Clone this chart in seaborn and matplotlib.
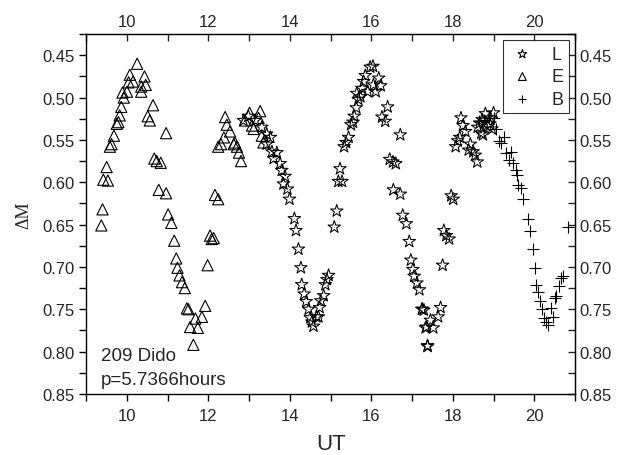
import pandas as pd
import seaborn as sns
import matplotlib.pyplot as plt
from matplotlib.ticker import MultipleLocator

sns.set_style("ticks")
plt.rcParams['font.family'] = ['Liberation Sans', 'DejaVu Sans']

# L filter (stars)
l_ut = [12.86, 12.98, 13.15, 13.31, 13.43, 13.52, 13.43, 13.56, 13.68, 13.60,
        13.76, 13.80, 13.88, 13.84, 13.94, 13.99, 14.11, 14.15, 14.21, 14.27,
        14.29, 14.35, 14.40, 14.46, 14.50, 14.54, 14.58, 14.65, 14.70, 14.73,
        14.76, 14.83, 14.87, 14.91, 14.95, 15.09, 15.15, 15.19, 15.28, 15.23,
        15.33, 15.38, 15.44, 15.50, 15.55, 15.58, 15.63, 15.68, 15.73, 15.64,
        15.77, 15.81, 15.85, 15.91, 15.97, 16.04, 16.05, 16.11, 16.18, 16.23,
        16.40, 16.26, 16.34, 16.71, 16.45, 16.53, 16.60, 16.54, 16.71, 16.77,
        16.86, 16.93, 16.97, 17.02, 17.05, 17.12, 17.18, 17.24, 17.35, 17.38,
        17.25, 17.29, 17.33, 17.45, 17.52, 17.64, 17.70, 17.38, 17.75, 17.78,
        17.84, 17.91, 17.96, 18.01, 18.07, 18.12, 18.17, 18.20, 18.25, 18.31,
        18.39, 18.43, 18.50, 18.55, 18.60, 18.61, 18.66, 18.70, 18.74, 18.80,
        18.86, 18.91, 18.96, 19.00, 18.92, 18.72]
l_dm = [0.527, 0.522, 0.527, 0.535, 0.543, 0.547, 0.555, 0.564, 0.565, 0.572,
        0.578, 0.586, 0.593, 0.602, 0.608, 0.620, 0.643, 0.657, 0.679, 0.701,
        0.721, 0.732, 0.741, 0.750, 0.760, 0.765, 0.770, 0.759, 0.759, 0.748,
        0.740, 0.734, 0.721, 0.715, 0.710, 0.653, 0.634, 0.599, 0.599, 0.584,
        0.558, 0.553, 0.547, 0.532, 0.529, 0.522, 0.512, 0.502, 0.499, 0.495,
        0.489, 0.481, 0.474, 0.493, 0.464, 0.463, 0.485, 0.493, 0.477, 0.486,
        0.511, 0.523, 0.528, 0.544, 0.573, 0.576, 0.578, 0.609, 0.614, 0.639,
        0.649, 0.670, 0.692, 0.703, 0.711, 0.719, 0.727, 0.750, 0.771, 0.794,
        0.750, 0.751, 0.772, 0.763, 0.772, 0.759, 0.748, 0.793, 0.698, 0.657,
        0.663, 0.667, 0.616, 0.620, 0.558, 0.551, 0.547, 0.524, 0.533, 0.540,
        0.562, 0.555, 0.564, 0.568, 0.576, 0.535, 0.530, 0.542, 0.544, 0.519,
        0.534, 0.531, 0.537, 0.518, 0.524, 0.526]

# E filter (triangles)
e_ut = [9.37, 9.40, 9.42, 9.53, 9.50, 9.58, 9.62, 9.68, 9.75, 9.79,
        9.82, 9.86, 9.92, 9.89, 10.00, 10.04, 10.07, 10.15, 10.25, 10.35,
        10.35, 10.43, 10.46, 10.64, 10.51, 10.56, 10.96, 10.67, 10.73, 10.83,
        10.78, 10.96, 11.01, 11.09, 11.16, 11.21, 11.24, 11.29, 11.35, 11.42,
        11.47, 11.51, 11.55, 11.68, 11.74, 11.84, 11.92, 11.63, 11.98, 12.04,
        12.08, 12.13, 12.16, 12.24, 12.24, 12.31, 12.38, 12.41, 12.45, 12.53,
        12.62, 12.65, 12.70, 12.75, 12.80, 12.90, 13.01, 13.27, 13.07, 13.11,
        13.31, 13.35, 13.23]
e_dm = [0.651, 0.632, 0.597, 0.598, 0.582, 0.558, 0.555, 0.545, 0.531, 0.529,
        0.521, 0.511, 0.500, 0.494, 0.493, 0.482, 0.473, 0.481, 0.460, 0.493,
        0.487, 0.475, 0.485, 0.509, 0.522, 0.527, 0.542, 0.572, 0.575, 0.577,
        0.609, 0.613, 0.638, 0.648, 0.669, 0.690, 0.701, 0.710, 0.718, 0.725,
        0.749, 0.750, 0.771, 0.761, 0.772, 0.759, 0.746, 0.792, 0.698, 0.663,
        0.667, 0.666, 0.615, 0.620, 0.558, 0.555, 0.547, 0.523, 0.532, 0.540,
        0.555, 0.553, 0.558, 0.565, 0.575, 0.527, 0.518, 0.516, 0.533, 0.537,
        0.545, 0.553, 0.524]

# B filter (plus)
b_ut = [18.64, 18.76, 18.88, 19.00, 19.07, 19.13, 19.18, 19.26, 19.31, 19.37,
        19.43, 19.48, 19.54, 19.58, 19.59, 19.68, 19.72, 19.84, 19.89, 19.97,
        20.01, 20.05, 20.08, 20.13, 20.19, 20.25, 20.30, 20.33, 20.40, 20.46,
        20.50, 20.54, 20.60, 20.66, 20.70, 20.82]
b_dm = [0.528, 0.526, 0.524, 0.524, 0.537, 0.551, 0.554, 0.546, 0.566, 0.574,
        0.564, 0.577, 0.586, 0.592, 0.603, 0.607, 0.620, 0.643, 0.657, 0.679,
        0.701, 0.721, 0.730, 0.740, 0.750, 0.760, 0.765, 0.769, 0.749, 0.759,
        0.737, 0.734, 0.723, 0.713, 0.711, 0.653]

fig = plt.figure(figsize=(6.25, 4.56), dpi=100)
ax = fig.add_axes([0.138, 0.134, 0.782, 0.789])

sns.scatterplot(x=l_ut, y=l_dm, marker='*', s=90, color='black', facecolor='none',
                edgecolor='black', linewidth=0.75, label='L', ax=ax)
sns.scatterplot(x=e_ut, y=e_dm, marker='^', s=65, color='black', facecolor='none',
                edgecolor='black', linewidth=0.8, label='E', ax=ax)
sns.scatterplot(x=b_ut, y=b_dm, marker='+', s=70, color='black',
                linewidth=0.8, label='B', ax=ax)

ax.set_xlim(9, 21)
ax.set_ylim(0.85, 0.425)
ax.xaxis.set_major_locator(MultipleLocator(2))
ax.xaxis.set_minor_locator(MultipleLocator(1))
ax.yaxis.set_major_locator(MultipleLocator(0.05))
ax.yaxis.set_minor_locator(MultipleLocator(0.025))
ax.yaxis.set_major_formatter(plt.FormatStrFormatter('%.2f'))
ax.tick_params(which='both', direction='out', labelsize=12, color='black',
               width=1, length=5)
ax.tick_params(axis='x', pad=5)
for sp in ax.spines.values():
    sp.set_visible(True)
    sp.set_color('black')
    sp.set_linewidth(1)

top = ax.secondary_xaxis('top')
top.xaxis.set_major_locator(MultipleLocator(2))
top.xaxis.set_minor_locator(MultipleLocator(1))
top.tick_params(which='both', direction='in', labelsize=12, width=1, length=5)

right = ax.secondary_yaxis('right')
right.yaxis.set_major_locator(MultipleLocator(0.05))
right.yaxis.set_minor_locator(MultipleLocator(0.025))
right.yaxis.set_major_formatter(plt.FormatStrFormatter('%.2f'))
right.tick_params(which='both', direction='in', labelsize=12, width=1, length=5)

ax.set_xlabel('UT', fontsize=16, labelpad=7)
ax.set_ylabel('ΔM', fontsize=13, family=['Liberation Serif', 'DejaVu Serif'], labelpad=7)

ax.text(0.03, 0.108, '209 Dido', transform=ax.transAxes, fontsize=13.5, va='center')
ax.text(0.03, 0.04, 'p=5.7366hours', transform=ax.transAxes, fontsize=13.5, va='center')

leg = ax.legend(loc='upper right', fontsize=13, frameon=True, fancybox=False,
                edgecolor='black', borderaxespad=0.35, handletextpad=0.8,
                labelspacing=0.3, borderpad=0.3, handlelength=1.6, markerscale=0.7)
leg.get_frame().set_linewidth(0.8)

fig.savefig('out.png', dpi=100)
